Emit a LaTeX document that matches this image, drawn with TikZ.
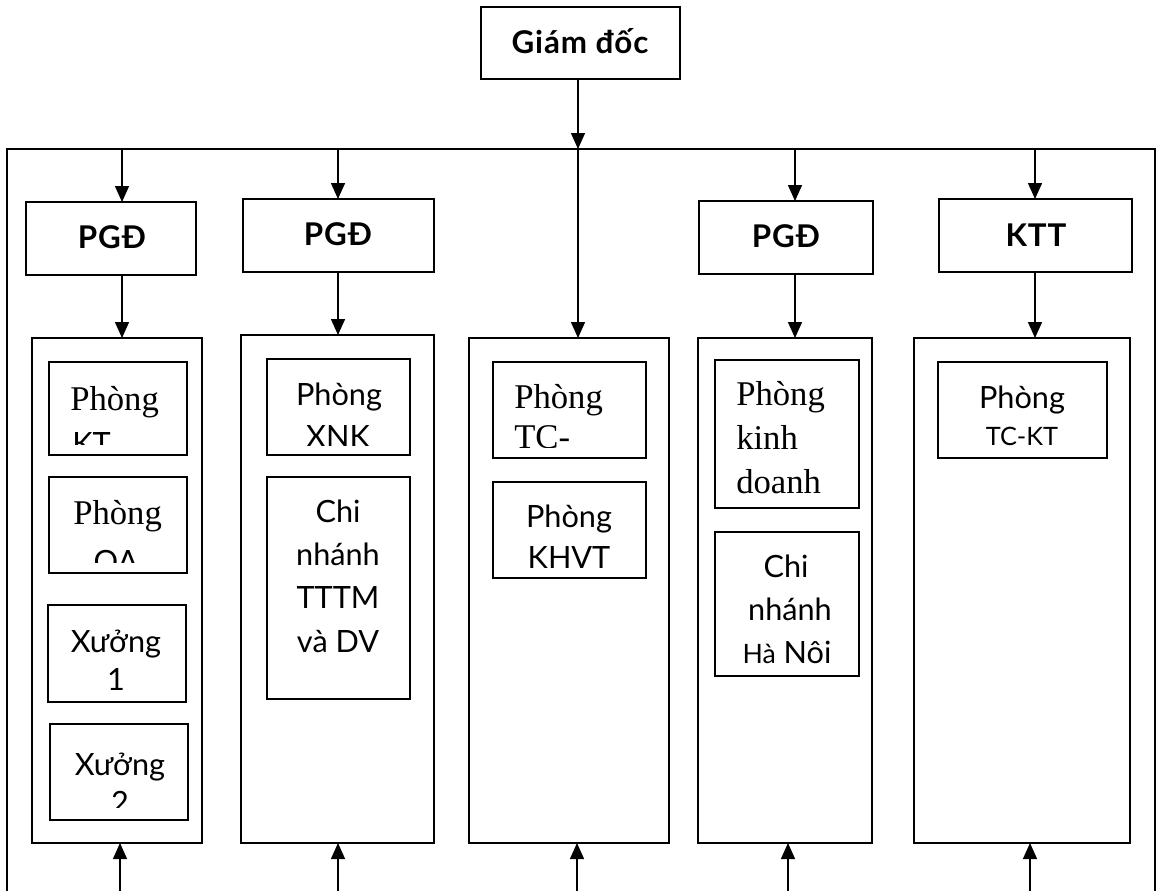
\documentclass[tikz,border=0pt]{standalone}
\usepackage{fontspec}
\setmainfont{Lato}
\newfontfamily\sersf{Liberation Serif}
\usetikzlibrary{arrows.meta}
\newcommand\bx[5]{\node[boxst, minimum width={(#4-#2)*0.75pt}, minimum height={(#5-#3)*0.75pt}] (#1) at ({(#2+#4)/2},{(#3+#5)/2}) {};}
\tikzset{
  boxst/.style={draw, line width=1.3pt, inner sep=0pt, outer sep=0pt, rectangle},
  arr/.style={line width=1.1pt, -{Triangle[width=10.5pt,length=12pt]}},
  sa/.style={font=\fontsize{23}{32}\selectfont, inner sep=0pt, anchor=base},
  sb/.style={font=\fontsize{23.5}{32}\selectfont\bfseries\addfontfeatures{LetterSpace=3}, inner sep=0pt, anchor=base},
  se/.style={font=\sersf\fontsize{26}{33}\selectfont, inner sep=0pt, anchor=base west},
}
\begin{document}
\begin{tikzpicture}[x=0.75pt,y=-0.75pt]
\useasboundingbox (0,0) rectangle (1158,890);
% outer frame
\draw[line width=1.3pt] (7,900) -- (7,149) -- (1155,149) -- (1155,900);
% boxes
\bx{gd}{481}{7}{680}{79}
\bx{p1}{26}{202}{196}{275}
\bx{p2}{243}{199}{434}{272}
\bx{p3}{699}{201}{873}{274}
\bx{ktt}{939}{199}{1132}{272}
\bx{c1}{32}{338}{202}{843}
\bx{c2}{241}{335}{434}{843}
\bx{c3}{469}{338}{669}{843}
\bx{c4}{698}{338}{872}{843}
\bx{c5}{914}{338}{1130}{843}
\bx{b11}{49}{362}{187}{455}
\bx{b12}{49}{477}{187}{573}
\bx{b13}{48}{605}{186}{702}
\bx{b14}{50}{724}{188}{820}
\bx{b21}{267}{359}{410}{455}
\bx{b22}{267}{477}{410}{699}
\bx{b31}{493}{362}{646}{458}
\bx{b32}{493}{482}{646}{578}
\bx{b41}{715}{360}{859}{508}
\bx{b42}{715}{532}{859}{676}
\bx{b51}{938}{362}{1107}{458}
% top texts
\node[sb] (tgd) at (580,53) {Giám đốc};
\node[sb] (tp1) at (112,248) {PGĐ};
\node[sb] (tp2) at (338,245) {PGĐ};
\node[sb] (tp3) at (786,247) {PGĐ};
\node[sb] (tktt) at (1036,246) {KTT};
% column 1
\begin{scope}
\clip (49,362) rectangle (187,444);
\node[se] (t11a) at (70,410) {Phòng};
\node[sa,anchor=base west] (t11b) at (72,454) {KT};
\end{scope}
\begin{scope}
\clip (49,477) rectangle (187,562);
\node[se] (t12a) at (73,524) {Phòng};
\node[sa] (t12b) at (116,572) {QA};
\end{scope}
\node[sa] (t13a) at (116,652) {Xưởng};
\node[sa] (t13b) at (116,690) {1};
\begin{scope}
\clip (50,724) rectangle (188,807);
\node[sa] (t14a) at (120,775) {Xưởng};
\node[sa] (t14b) at (120,813) {2};
\end{scope}
% column 2
\begin{scope}
\clip (267,359) rectangle (410,445);
\node[sa] (t21a) at (339,405) {Phòng};
\node[sa] (t21b) at (338,447) {XNK};
\end{scope}
\node[sa] (t22a) at (338,522) {Chi};
\node[sa] (t22b) at (338,565) {nhánh};
\node[sa] (t22c) at (338,608) {TTTM};
\node[sa] (t22d) at (338,652) {và DV};
% column 3
\begin{scope}
\clip (493,362) rectangle (646,447);
\node[se] (t31a) at (514,408) {Phòng};
\node[se] (t31b) at (514,448) {TC-};
\end{scope}
\begin{scope}
\clip (493,482) rectangle (646,569);
\node[sa] (t32a) at (569,527) {Phòng};
\node[sa] (t32b) at (569,568) {KHVT};
\end{scope}
% column 4
\node[se] (t41a) at (736,405) {Phòng};
\node[se] (t41b) at (736,449) {kinh};
\node[se] (t41c) at (736,493) {doanh};
\node[sa] (t42a) at (786,577) {Chi};
\node[sa] (t42b) at (790,620) {nhánh};
\node[sa] (t42c) at (787,663) {{\fontsize{20}{32}\selectfont Hà} Nôi};
% column 5
\node[sa] (t51a) at (1022,408) {Phòng};
\node[sa,font=\fontsize{19}{28}\selectfont] (t51b) at (1022,445) {TC-KT};
% connectors
\coordinate (top) at (578,149);
\coordinate (a1) at (122,149);
\coordinate (a2) at (338,149);
\coordinate (a4) at (795,149);
\coordinate (a5) at (1035,149);
\draw[arr] (top |- gd.south) -- (top);
\draw[arr] (a1) -- (a1 |- p1.north);
\draw[arr] (a2) -- (a2 |- p2.north);
\draw[arr] (a4) -- (a4 |- p3.north);
\draw[arr] (a5) -- (a5 |- ktt.north);
\draw[arr] (a1 |- p1.south) -- (a1 |- c1.north);
\draw[arr] (a2 |- p2.south) -- (a2 |- c2.north);
\draw[arr] (top) -- (top |- c3.north);
\draw[arr] (a4 |- p3.south) -- (a4 |- c4.north);
\draw[arr] (a5 |- ktt.south) -- (a5 |- c5.north);
\coordinate (d1) at (120,895);
\coordinate (d2) at (338,895);
\coordinate (d3) at (577,895);
\coordinate (d4) at (788,895);
\coordinate (d5) at (1030,895);
\draw[arr] (d1) -- (d1 |- c1.south);
\draw[arr] (d2) -- (d2 |- c2.south);
\draw[arr] (d3) -- (d3 |- c3.south);
\draw[arr] (d4) -- (d4 |- c4.south);
\draw[arr] (d5) -- (d5 |- c5.south);
\end{tikzpicture}
\end{document}
